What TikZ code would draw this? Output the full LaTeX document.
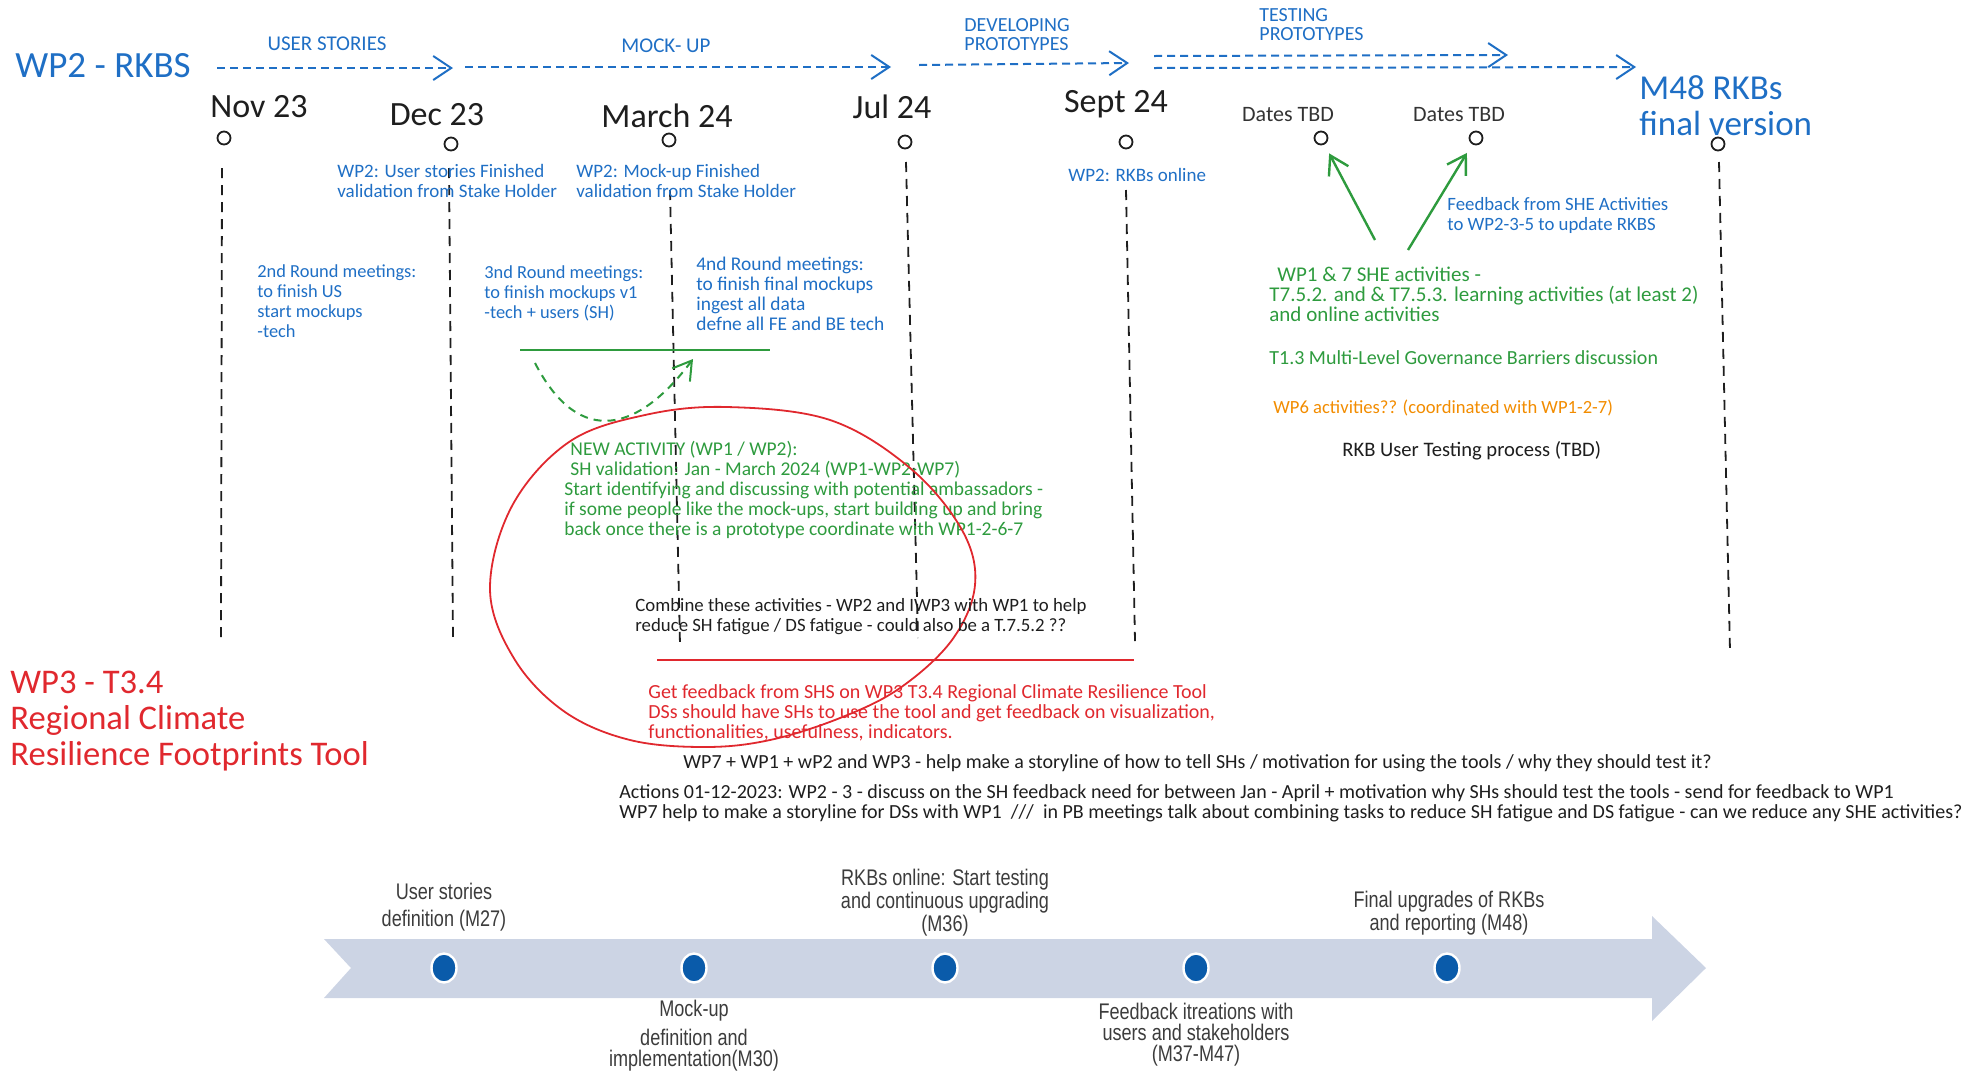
\documentclass[tikz,border=0pt]{standalone}
\usepackage{fontspec}
\setmainfont{Carlito}
\newfontfamily\capfont[FakeStretch=0.8]{Liberation Sans}
\usetikzlibrary{arrows.meta,shapes.geometric}

\definecolor{hwblue}{HTML}{1F6FC5}
\definecolor{hwgreen}{HTML}{2E9B3E}
\definecolor{hwred}{HTML}{E0282E}
\definecolor{hworange}{HTML}{F28C00}
\definecolor{hwink}{HTML}{1E1E1E}
\definecolor{hwgray}{HTML}{333333}
\definecolor{bandfill}{HTML}{CCD4E4}
\definecolor{dotfill}{HTML}{0A5BAA}
\definecolor{captext}{HTML}{3C3C3C}

\newcommand{\hwsize}[1]{\fontsize{#1}{10}\selectfont}

\begin{document}
\begin{tikzpicture}[x=0.5pt,y=-0.5pt,
  hw/.style={inner sep=0pt, align=left, anchor=west, font=\hwsize{9.2}},
  bluenote/.style={hw, text=hwblue},
  greennote/.style={hw, text=hwgreen},
  rednote/.style={hw, text=hwred},
  inknote/.style={hw, text=hwink},
  datelabel/.style={inner sep=0pt, text=hwink, font=\fontsize{17}{18}\selectfont},
  tbdlabel/.style={inner sep=0pt, text=hwgray, font=\fontsize{11}{12}\selectfont},
  phase/.style={inner sep=0pt, align=left, text=hwblue, font=\fontsize{10}{9.5}\selectfont},
  markring/.style={circle, draw=hwink, line width=0.9pt, minimum size=6.5pt, inner sep=0pt},
  vline/.style={draw=hwink, line width=0.9pt, dash pattern=on 5pt off 3.5pt},
  bluearrow/.style={draw=hwblue, line width=1pt, dash pattern=on 4pt off 2.5pt,
    -{Straight Barb[length=9pt,width=12pt]}},
  greenarrow/.style={draw=hwgreen, line width=1.2pt, shorten >=5pt,
    -{Straight Barb[length=9pt,width=11pt]}},
  caption/.style={inner sep=0pt, align=center, text=captext, font=\capfont\fontsize{11.3}{10.5}\selectfont},
  milestone/.style={ellipse, fill=dotfill, draw=white, line width=1.2pt,
    minimum width=12.5pt, minimum height=14.5pt, inner sep=0pt}
]
\useasboundingbox (0,0) rectangle (1982,1072);

% ---------- header: work package and phase arrows ----------
\node[inner sep=0pt, anchor=west, text=hwblue, font=\fontsize{18.5}{20}\selectfont] (wp2) at (15,66) {WP2 - RKBS};

\coordinate (a1s) at (217,68);   \coordinate (a1e) at (453,68);
\coordinate (a2s) at (465,67);   \coordinate (a2e) at (891,67);
\coordinate (a3s) at (919,65);   \coordinate (a3e) at (1129,63);
\coordinate (a4s) at (1154,56);  \coordinate (a4e) at (1508,55);
\coordinate (a5s) at (1154,68);  \coordinate (a5e) at (1636,67);
\draw[bluearrow] (a1s) -- (a1e);
\draw[bluearrow] (a2s) -- (a2e);
\draw[bluearrow] (a3s) -- (a3e);
\draw[bluearrow] (a4s) -- (a4e);
\draw[bluearrow] (a5s) -- (a5e);

\node[phase, font=\fontsize{10.5}{10}\selectfont] (ph1) at (327,44) {USER STORIES};
\node[phase, font=\fontsize{10.5}{10}\selectfont] (ph2) at (666,46) {MOCK- UP};
\node[phase, anchor=west] (ph3) at (964,34.5) {DEVELOPING\\PROTOTYPES};
\node[phase, anchor=west] (ph4) at (1259,24.5) {TESTING\\PROTOTYPES};

% ---------- dates ----------
\node[datelabel] (d1) at (259,107) {Nov 23};
\node[datelabel] (d2) at (437,115) {Dec 23};
\node[datelabel] (d3) at (667,116) {March 24};
\node[datelabel] (d4) at (892,107) {Jul 24};
\node[datelabel] (d5) at (1116,104) {Sept 24};
\node[tbdlabel] (d6) at (1288,115) {Dates TBD};
\node[tbdlabel] (d7) at (1459,115) {Dates TBD};
\node[inner sep=0pt, anchor=west, align=left, text=hwblue, font=\fontsize{17.5}{18}\selectfont] (d8) at (1639,106) {M48 RKBs\\final version};

\node[markring] (c1) at (224,138) {};
\node[markring] (c2) at (451,144) {};
\node[markring] (c3) at (669,140) {};
\node[markring] (c4) at (905,142) {};
\node[markring] (c5) at (1126,142) {};
\node[markring] (c6) at (1321,138) {};
\node[markring] (c7) at (1476,138) {};
\node[markring] (c8) at (1718,144) {};

% ---------- vertical guides ----------
\coordinate (v1t) at (222,168);  \coordinate (v1b) at (221,638);
\coordinate (v2t) at (449,168);  \coordinate (v2b) at (453,638);
\coordinate (v3t) at (670,190);  \coordinate (v3b) at (680,645);
\coordinate (v4t) at (906,162);  \coordinate (v4b) at (918,638);
\coordinate (v5t) at (1126,190); \coordinate (v5b) at (1135,641);
\coordinate (v8t) at (1719,162); \coordinate (v8b) at (1730,651);
\draw[vline] (v1t) -- (v1b);
\draw[vline] (v2t) -- (v2b);
\draw[vline] (v3t) -- (v3b);
\draw[vline] (v4t) -- (v4b);
\draw[vline] (v5t) -- (v5b);
\draw[vline] (v8t) -- (v8b);

% ---------- blue notes ----------
\node[bluenote, font=\hwsize{9.5}] (usfin) at (337,181) {WP2: User stories Finished\\validation from Stake Holder};
\node[bluenote, font=\hwsize{9.5}] (mufin) at (576,181) {WP2: Mock-up Finished\\validation from Stake Holder};
\node[bluenote, font=\hwsize{9.5}] (rkbon) at (1068,175) {WP2: RKBs online};
\node[bluenote] (r2) at (257,301.5) {2nd Round meetings:\\to finish US\\start mockups\\-tech};
\node[bluenote] (r3) at (484,293) {3nd Round meetings:\\to finish mockups v1\\-tech + users (SH)};
\node[bluenote, font=\hwsize{9.7}] (r4) at (696,294) {4nd Round meetings:\\to finish final mockups\\ingest all data\\defne all FE and BE tech};
\node[bluenote, font=\hwsize{9.4}] (fb) at (1447,215) {Feedback from SHE Activities\\to WP2-3-5 to update RKBS};

% ---------- green: new activity loop ----------
\coordinate (gl1) at (520,350); \coordinate (gl2) at (770,350);
\draw[hwgreen, line width=1.2pt] (gl1) -- (gl2);
\coordinate (gd1) at (535,363); \coordinate (gd2) at (693,359);
\draw[hwgreen, line width=1pt, dash pattern=on 4pt off 3pt, -{Straight Barb[length=9pt,width=11pt]}]
  (gd1) .. controls (580,450) and (640,430) .. (gd2);

\node[greennote, font=\hwsize{9.75}] (newact) at (564,490) {\hspace*{3pt}NEW ACTIVITY (WP1 / WP2):\\\hspace*{3pt}SH validation: Jan - March 2024 (WP1-WP2-WP7)\\Start identifying and discussing with potential ambassadors -\\if some people like the mock-ups, start building up and bring\\back once there is a prototype coordinate with WP1-2-6-7};

% ---------- green: SHE activities feeding back ----------
\node[greennote, font=\hwsize{10.5}] (she) at (1269,294) {\hspace*{4pt}WP1 \& 7 SHE activities -\\T7.5.2. and \& T7.5.3. learning activities (at least 2)\\and online activities};
\coordinate (ga1) at (1375,240);
\coordinate (ga2) at (1408,250);
\draw[greenarrow] (ga1) -- (c6);
\draw[greenarrow] (ga2) -- (c7);
\node[greennote, font=\hwsize{10}] (t13) at (1269,358) {T1.3 Multi-Level Governance Barriers discussion};
\node[hw, text=hworange, font=\hwsize{9.3}] (wp6) at (1273,408) {WP6 activities?? (coordinated with WP1-2-7)};
\node[inknote, font=\hwsize{10.3}] (rkbut) at (1342,451) {RKB User Testing process (TBD)};

% ---------- red: WP3 tool ----------
\draw[hwred, line width=0.9pt] plot[smooth cycle, tension=0.6] coordinates {
  (727,407) (830,420) (910,468) (962,530) (975,585) (952,640) (900,688)
  (840,718) (770,740) (705,747) (630,740) (565,712) (515,660) (490,590)
  (512,506) (569,442) (645,415)};

\node[inknote, font=\hwsize{9.4}] (combine) at (635,617) {Combine these activities - WP2 and IWP3 with WP1 to help\\reduce SH fatigue / DS fatigue - could also be a T.7.5.2 ??};
\coordinate (rl1) at (657,660); \coordinate (rl2) at (1134,660);
\draw[hwred, line width=1.2pt] (rl1) -- (rl2);

\node[rednote, font=\hwsize{10}] (getfb) at (648,713) {Get feedback from SHS on WP3 T3.4 Regional Climate Resilience Tool\\DSs should have SHs to use the tool and get feedback on visualization,\\functionalities, usefulness, indicators.};
\node[inner sep=0pt, anchor=west, align=left, text=hwred, font=\fontsize{17.3}{18}\selectfont] (wp3) at (10,721) {WP3 - T3.4\\Regional Climate\\Resilience Footprints Tool};

% ---------- actions ----------
\node[inknote, font=\hwsize{10}] (wp7) at (683,763) {WP7 + WP1 + wP2 and WP3 - help make a storyline of how to tell SHs / motivation for using the tools / why they should test it?};
\node[inknote, font=\hwsize{10}] (actions) at (619,803) {Actions 01-12-2023: WP2 - 3 - discuss on the SH feedback need for between Jan - April + motivation why SHs should test the tools - send for feedback to WP1\\WP7 help to make a storyline for DSs with WP1 \ /// \ in PB meetings talk about combining tasks to reduce SH fatigue and DS fatigue - can we reduce any SHE activities?};

% ---------- project timeline band ----------
\fill[bandfill] (324,939) -- (1652,939) -- (1652,916) -- (1706,968) -- (1652,1021)
  -- (1652,998) -- (324,998) -- (351,968) -- cycle;
\node[milestone] (m1) at (444,968) {};
\node[milestone] (m2) at (694,968) {};
\node[milestone] (m3) at (945,968) {};
\node[milestone] (m4) at (1196,968) {};
\node[milestone] (m5) at (1447,968) {};

\node[caption] (cap1) at (444,907) {User stories\\[3pt]definition (M27)};
\node[caption] (cap3) at (945,903) {RKBs online: Start testing\\and continuous upgrading\\(M36)};
\node[caption] (cap5) at (1449,913) {Final upgrades of RKBs\\and reporting (M48)};
\node[caption] (cap2) at (694,1036) {Mock-up\\[3pt]definition and\\implementation(M30)};
\node[caption] (cap4) at (1196,1035) {Feedback itreations with\\users and stakeholders\\(M37-M47)};
\end{tikzpicture}
\end{document}
